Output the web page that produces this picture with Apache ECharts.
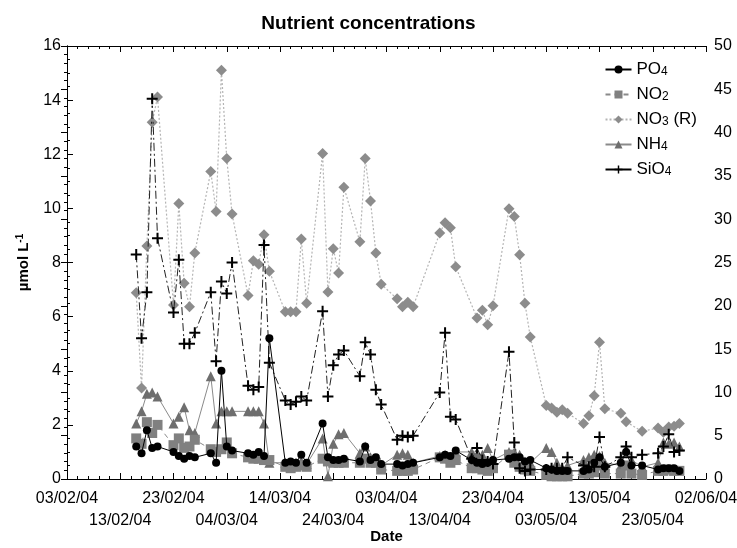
<!DOCTYPE html>
<html><head><meta charset="utf-8">
<script src="https://cdn.jsdelivr.net/npm/echarts@6/dist/echarts.min.js"></script>
<style>html,body{margin:0;padding:0;background:#fff}#c{width:737px;height:548px}</style>
</head><body><div id="c"></div>
<script>
// Sampling dates (weekdays)
const dates = [
 '2004-02-16','2004-02-17','2004-02-18','2004-02-19','2004-02-20',
 '2004-02-23','2004-02-24','2004-02-25','2004-02-26','2004-02-27',
 '2004-03-01','2004-03-02','2004-03-03','2004-03-04','2004-03-05',
 '2004-03-08','2004-03-09','2004-03-10','2004-03-11','2004-03-12',
 '2004-03-15','2004-03-16','2004-03-17','2004-03-18','2004-03-19',
 '2004-03-22','2004-03-23','2004-03-24','2004-03-25','2004-03-26',
 '2004-03-29','2004-03-30','2004-03-31','2004-04-01','2004-04-02',
 '2004-04-05','2004-04-06','2004-04-07','2004-04-08',
 '2004-04-13','2004-04-14','2004-04-15','2004-04-16',
 '2004-04-19','2004-04-20','2004-04-21','2004-04-22','2004-04-23',
 '2004-04-26','2004-04-27','2004-04-28','2004-04-29','2004-04-30',
 '2004-05-03','2004-05-04','2004-05-05','2004-05-06','2004-05-07',
 '2004-05-10','2004-05-11','2004-05-12','2004-05-13','2004-05-14',
 '2004-05-17','2004-05-18','2004-05-19','2004-05-21',
 '2004-05-24','2004-05-25','2004-05-26','2004-05-27','2004-05-28'
];
const po4 = [
 1.2,0.95,1.8,1.15,1.2,
 1.0,0.85,0.75,0.85,0.8,
 0.95,0.6,4.0,1.2,1.05,
 0.95,0.9,1.0,0.85,5.2,
 0.6,0.65,0.6,0.9,0.6,
 2.05,0.8,0.7,0.7,0.75,
 0.65,1.2,0.7,0.8,0.55,
 0.55,0.5,0.55,0.6,
 0.8,0.9,0.85,1.05,
 0.7,0.6,0.55,0.6,0.7,
 0.75,0.8,0.8,0.65,0.7,
 0.4,0.35,0.3,0.3,0.3,
 0.3,0.35,0.6,0.8,0.45,
 0.6,1.0,0.5,0.5,
 0.35,0.4,0.4,0.4,0.3
];
const no2 = [
 1.5,1.3,2.1,1.7,2.0,
 1.25,1.5,1.15,1.2,1.45,
 1.1,1.0,1.1,1.35,0.95,
 0.8,0.75,0.75,0.7,0.7,
 0.45,0.4,0.45,0.5,0.45,
 0.75,0.65,0.6,0.6,0.6,
 0.6,0.75,0.6,0.6,0.35,
 0.3,0.3,0.3,0.35,
 0.8,0.75,0.6,0.7,
 0.4,0.4,0.35,0.3,0.4,
 0.9,0.6,0.45,0.35,0.3,
 0.15,0.1,0.1,0.1,0.1,
 0.2,0.2,0.25,0.5,0.2,
 0.2,0.5,0.2,0.15,
 0.3,0.3,0.35,0.3,0.3
];
const no3 = [
 21.5,10.5,26.9,41.2,44.1,
 20.1,31.8,22.6,19.9,26.1,
 35.5,30.9,47.2,37.0,30.6,
 21.2,25.2,24.8,28.2,24.0,
 19.3,19.3,19.3,27.7,20.3,
 37.6,21.6,26.6,23.8,33.7,
 27.4,37.0,32.1,26.1,22.5,
 20.8,19.9,20.4,19.9,
 28.4,29.6,29.0,24.5,
 null,18.6,19.5,17.8,20.0,
 31.2,30.3,25.9,20.3,16.4,
 8.5,8.2,7.7,8.0,7.6,
 6.4,7.3,9.6,15.8,8.1,
 7.6,6.6,null,5.5,
 5.9,5.4,6.0,6.1,6.4
];
const nh4 = [
 2.05,2.5,3.15,3.2,3.05,
 2.05,2.3,2.65,1.8,1.7,
 3.8,2.05,2.5,2.5,2.5,
 2.5,2.5,2.5,2.05,0.6,
 0.6,0.55,0.6,0.65,0.55,
 1.5,0.1,1.3,1.65,1.7,
 0.95,1.2,0.8,0.7,0.5,
 0.9,0.95,0.9,0.6,
 0.85,0.9,0.75,1.0,
 1.0,0.9,0.9,1.15,0.7,
 1.0,1.0,0.9,0.65,0.6,
 1.15,1.0,0.6,0.4,0.5,
 0.7,0.8,0.9,0.85,0.6,
 0.5,1.1,0.7,0.45,
 0.6,1.35,1.3,1.35,1.2
];
const sio4 = [
 8.3,5.2,6.9,14.05,8.9,
 6.15,8.1,5.0,5.0,5.4,
 6.9,4.35,7.3,6.85,8.0,
 3.45,3.3,3.4,8.65,4.3,
 2.9,2.75,2.85,3.05,2.9,
 6.2,3.05,4.2,4.6,4.75,
 3.8,5.05,4.6,3.3,2.75,
 1.45,1.6,1.55,1.6,
 3.2,5.4,2.3,2.2,
 0.75,1.15,0.7,0.65,0.55,
 4.7,1.35,0.4,0.3,0.35,
 0.35,0.4,0.4,0.4,0.8,
 0.5,0.45,0.45,1.55,0.45,
 0.8,1.2,0.8,0.9,
 0.95,1.2,1.65,1.0,1.05
];
const seriesNames = ['PO4','NO2','NO3 (R)','NH4','SiO4'];
const xTickStart = '2004-02-03';
const xTickEnd = '2004-06-02';

const DAY = 86400000;
const t0 = Date.parse(xTickStart + 'T00:00:00Z');
const dayOf = s => Math.round((Date.parse(s + 'T00:00:00Z') - t0) / DAY);
const xMax = dayOf(xTickEnd);
const pair = arr => dates.map((d, i) => [dayOf(d), arr[i]]);
const fmtDate = v => {
  const d = new Date(t0 + v * DAY);
  const p = n => String(n).padStart(2, '0');
  return p(d.getUTCDate()) + '/' + p(d.getUTCMonth() + 1) + '/' + p(d.getUTCFullYear() % 100);
};
const FONT = "'Liberation Sans', Arial, sans-serif";
const plus = 'path://M0,4.5H11V6.5H0Z M4.5,0H6.5V11H4.5Z';

const chart = echarts.init(document.getElementById('c'), null, {renderer: 'canvas'});
const subName = {
  'PO4': '{a|PO}{s|4}', 'NO2': '{a|NO}{s|2}', 'NO3 (R)': '{a|NO}{s|3}{a| (R)}',
  'NH4': '{a|NH}{s|4}', 'SiO4': '{a|SiO}{s|4}'
};
const tickCommon = {
  axisLine: {lineStyle: {color: '#000', width: 1}},
  axisTick: {inside: true, length: 6, lineStyle: {color: '#000'}},
  minorTick: {show: true, splitNumber: 5, length: 3, lineStyle: {color: '#000'}},
  splitLine: {show: false}
};
const labelCommon = {fontFamily: FONT, fontSize: 16, color: '#000', showMinLabel: true, showMaxLabel: true, hideOverlap: false};
chart.setOption({
  animation: false,
  backgroundColor: '#fff',
  title: {
    text: 'Nutrient concentrations', left: 'center', top: 9,
    textStyle: {fontFamily: FONT, fontSize: 19, fontWeight: 'bold', color: '#000'}
  },
  legend: {
    orient: 'vertical', right: 35, top: 53, itemGap: 5, itemWidth: 26, itemHeight: 10,
    data: seriesNames.map(n => n === 'SiO4' ? {name: n, lineStyle: {type: 'solid', color: '#000'}} : {name: n}),
    formatter: n => subName[n],
    textStyle: {
      fontFamily: FONT, color: '#000',
      rich: {
        a: {fontFamily: FONT, fontSize: 17, color: '#000', lineHeight: 17, verticalAlign: 'middle'},
        s: {fontFamily: FONT, fontSize: 12, color: '#000', lineHeight: 17, verticalAlign: 'bottom', padding: [8, 0, 0, 0]}
      }
    }
  },
  grid: {left: 67, right: 31, top: 46, bottom: 69, show: false, containLabel: false, outerBoundsMode: 'none'},
  xAxis: [Object.assign({
    type: 'value', min: 0, max: xMax, interval: 10, position: 'bottom',
    name: 'Date', nameLocation: 'middle', nameGap: 50,
    nameTextStyle: {fontFamily: FONT, fontSize: 15, fontWeight: 'bold', color: '#000'},
    axisLabel: Object.assign({}, labelCommon, {
      margin: 12,
      formatter: v => (Math.round(v / 10) % 2 === 0 ? fmtDate(v) : '')
    })
  }, tickCommon), {
    type: 'value', min: 0, max: xMax, interval: 10, position: 'bottom',
    axisLine: {show: false}, axisTick: {show: false}, splitLine: {show: false},
    axisLabel: Object.assign({}, labelCommon, {
      margin: 34,
      formatter: v => (Math.round(v / 10) % 2 === 1 ? fmtDate(v) : '')
    })
  }, Object.assign({
    type: 'value', min: 0, max: xMax, interval: 10, position: 'top',
    axisLabel: {show: false}
  }, tickCommon)],
  yAxis: [{
    type: 'value', min: 0, max: 16, interval: 2,
    name: '{a|µmol L}{s|-1}', nameLocation: 'middle', nameGap: 31,
    nameTextStyle: {
      fontFamily: FONT, color: '#000',
      rich: {
        a: {fontFamily: FONT, fontSize: 15, fontWeight: 'bold', color: '#000', lineHeight: 18, verticalAlign: 'middle'},
        s: {fontFamily: FONT, fontSize: 10, fontWeight: 'bold', color: '#000', lineHeight: 18, verticalAlign: 'top', padding: [0, 0, 7, 0]}
      }
    },
    axisLine: {show: true, lineStyle: {color: '#000', width: 1}},
    axisTick: {show: true, inside: true, length: 6, lineStyle: {color: '#000'}},
    minorTick: {show: true, splitNumber: 4, length: 3, lineStyle: {color: '#000'}},
    splitLine: {show: false},
    axisLabel: {fontFamily: FONT, fontSize: 16, color: '#000', margin: 6}
  }, {
    type: 'value', min: 0, max: 50, interval: 5, position: 'right',
    axisLine: {show: true, lineStyle: {color: '#000', width: 1}},
    axisTick: {show: true, inside: true, length: 6, lineStyle: {color: '#000'}},
    minorTick: {show: true, splitNumber: 5, length: 3, lineStyle: {color: '#000'}},
    splitLine: {show: false},
    axisLabel: {fontFamily: FONT, fontSize: 16, color: '#000', margin: 8}
  }],
  series: [{
    name: 'NO3 (R)', type: 'line', yAxisIndex: 1, data: pair(no3), connectNulls: true,
    symbol: 'diamond', symbolSize: 11, z: 1,
    itemStyle: {color: '#8c8c8c'},
    lineStyle: {color: '#b4b4b4', width: 1.2, type: [2, 2]}
  }, {
    name: 'NH4', type: 'line', data: pair(nh4),
    symbol: 'triangle', symbolSize: 10, z: 2,
    itemStyle: {color: '#6e6e6e'},
    lineStyle: {color: '#8a8a8a', width: 1}
  }, {
    name: 'NO2', type: 'line', data: pair(no2),
    symbol: 'rect', symbolSize: 10, z: 3,
    itemStyle: {color: '#808080'},
    lineStyle: {color: '#8a8a8a', width: 1, type: [5, 4]}
  }, {
    name: 'SiO4', type: 'line', data: pair(sio4),
    symbol: plus, symbolSize: 11, z: 4,
    itemStyle: {color: '#000'},
    lineStyle: {color: '#222', width: 1, type: [8, 3, 2, 3]}
  }, {
    name: 'PO4', type: 'line', data: pair(po4),
    symbol: 'circle', symbolSize: 8, z: 5,
    itemStyle: {color: '#000'},
    lineStyle: {color: '#000', width: 1}
  }]
});
</script>
</body></html>
